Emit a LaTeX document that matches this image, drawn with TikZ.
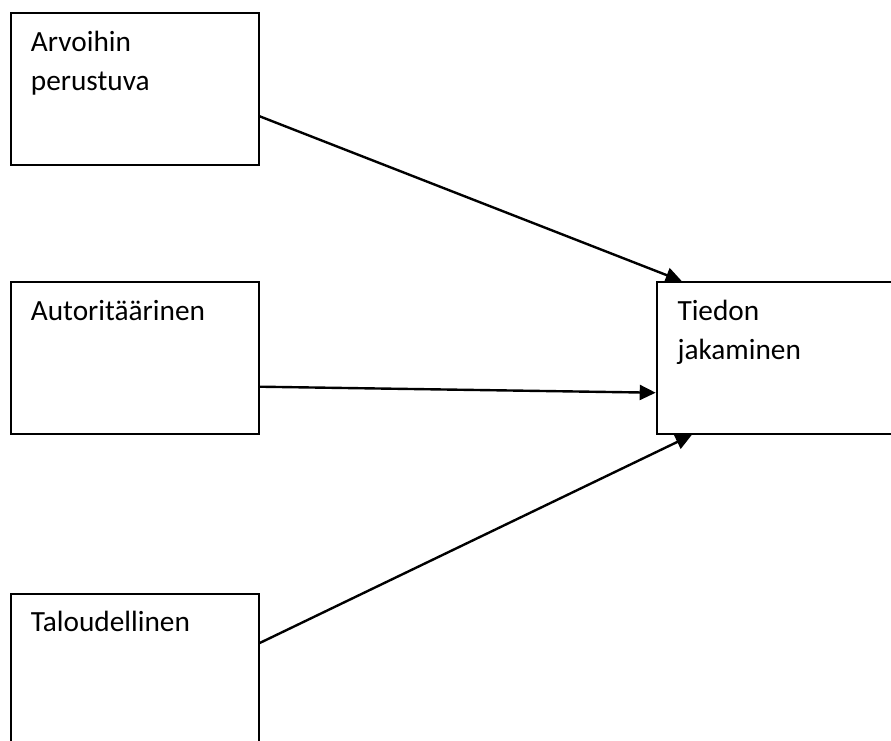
\documentclass[tikz,border=0pt]{standalone}
\usepackage{fontspec}
\setmainfont{Carlito}
\usetikzlibrary{arrows.meta}
\begin{document}
\begin{tikzpicture}[x=1pt,y=-1pt,
  box/.style={draw=black,line width=2pt,rectangle,minimum width=248pt,minimum height=152pt,inner sep=0pt,anchor=north west},
  lbl/.style={anchor=base west,inner sep=0pt,align=left,font=\fontsize{29.3pt}{39pt}\selectfont},
  conn/.style={line width=2.4pt,-{Triangle[length=16pt,width=15pt]}}]
\useasboundingbox (0,0) rectangle (891,740);
\clip (0,0) rectangle (891,740);
\fill[white] (0,0) rectangle (891,740);
\node[box] (b1) at (9.7,12.3) {};
\node[box] (b2) at (9.7,281) {};
\node[box] (b3) at (9.7,592.7) {};
\node[box,minimum width=260pt] (b4) at (655.7,281) {};
\node[lbl] (t1) at (30.7,90.7) {Arvoihin\\perustuva};
\node[lbl] (t2) at (30.7,320) {Autoritäärinen};
\node[lbl] (t3) at (30.7,631.7) {Taloudellinen};
\node[lbl] (t4) at (677.3,359.5) {Tiedon\\jakaminen};
\draw[conn] ([yshift=-27pt]b1.east) -- ([xshift=26pt]b4.north west);
\draw[conn] ([yshift=-28.7pt]b2.east) -- ([yshift=-34.7pt]b4.west);
\draw[conn] ([yshift=-50.3pt]b3.north east) -- ([xshift=36pt]b4.south west);
\end{tikzpicture}
\end{document}
